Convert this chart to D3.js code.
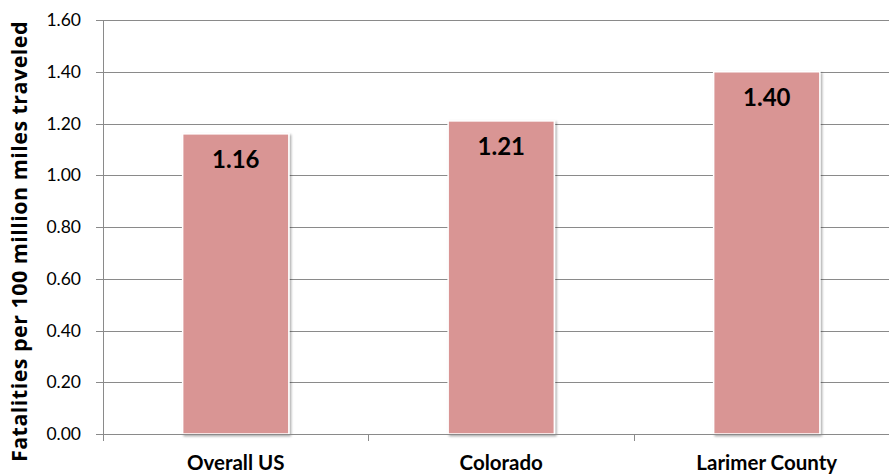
<!DOCTYPE html>
<html>
<head>
<meta charset="utf-8">
<script src="https://cdn.jsdelivr.net/npm/d3@7"></script>
<style>
  html, body { margin: 0; padding: 0; background: #fff; }
  svg { display: block; font-family: Lato, "Open Sans", sans-serif; }
</style>
</head>
<body>
<svg id="chart" width="889" height="475"></svg>
<script>
// Traffic fatality rates
const categories = ["Overall US", "Colorado", "Larimer County"];
const values = [1.16, 1.21, 1.40];
const yTicks = [0, 0.2, 0.4, 0.6, 0.8, 1.0, 1.2, 1.4, 1.6];
const yTitle = "Fatalities per 100 million miles traveled";

const svg = d3.select("#chart");
const W = 889;
const plotLeft = 103, plotRight = 899.5, plotTop = 20, plotBottom = 434;

const x = d3.scaleBand()
  .domain(categories)
  .range([plotLeft, plotRight])
  .paddingInner(0.6)
  .paddingOuter(0.3);

const y = d3.scaleLinear().domain([0, 1.6]).range([plotBottom, plotTop]);

const gridColor = "#8a8a8a";

// drop shadow for bars
const defs = svg.append("defs");
const f = defs.append("filter").attr("id", "shadow")
  .attr("x", "-10%").attr("y", "-10%").attr("width", "130%").attr("height", "130%");
f.append("feDropShadow")
  .attr("dx", 1.5).attr("dy", 1.5).attr("stdDeviation", 1.3)
  .attr("flood-color", "#000").attr("flood-opacity", 0.35);

// horizontal gridlines with left tick marks
const yAxis = d3.axisLeft(y)
  .tickValues(yTicks)
  .tickSize(-(W - plotLeft))
  .tickSizeOuter(0)
  .tickPadding(22)
  .tickFormat(d3.format(".2f"));

const gy = svg.append("g").attr("transform", `translate(${plotLeft},0)`).call(yAxis);
gy.select(".domain").remove();
gy.selectAll(".tick line")
  .attr("x1", -7)
  .attr("stroke", gridColor)
  .attr("stroke-width", 1)
  .attr("shape-rendering", "crispEdges");
gy.selectAll(".tick text")
  .attr("font-size", 17.5)
  .attr("fill", "#000")
  .attr("font-family", "Lato, sans-serif");

// vertical axis line
svg.append("line")
  .attr("x1", plotLeft).attr("x2", plotLeft)
  .attr("y1", plotTop).attr("y2", plotBottom)
  .attr("stroke", gridColor).attr("shape-rendering", "crispEdges");

// category axis: ticks at band boundaries
const boundaries = categories.map(c => x(c) - x.step() * x.paddingInner() / 2);
boundaries[0] = plotLeft;
svg.append("g").selectAll("line")
  .data(boundaries)
  .join("line")
  .attr("x1", d => d).attr("x2", d => d)
  .attr("y1", plotBottom).attr("y2", plotBottom + 7)
  .attr("stroke", gridColor).attr("shape-rendering", "crispEdges");

// bars
svg.append("g").selectAll("rect")
  .data(values)
  .join("rect")
  .attr("x", (d, i) => x(categories[i]))
  .attr("y", d => y(d))
  .attr("width", x.bandwidth())
  .attr("height", d => plotBottom - y(d))
  .attr("fill", "#d99594")
  .attr("stroke", "#ffffff")
  .attr("stroke-width", 1.5)
  .attr("filter", "url(#shadow)");

// redraw baseline over bars
svg.append("line")
  .attr("x1", plotLeft - 7).attr("x2", W)
  .attr("y1", plotBottom).attr("y2", plotBottom)
  .attr("stroke", gridColor).attr("shape-rendering", "crispEdges");

// value labels
svg.append("g").selectAll("text")
  .data(values)
  .join("text")
  .attr("x", (d, i) => x(categories[i]) + x.bandwidth() / 2)
  .attr("y", d => y(d) + 34)
  .attr("text-anchor", "middle")
  .attr("font-size", 24)
  .attr("font-weight", "bold")
  .attr("fill", "#000")
  .text(d => d3.format(".2f")(d));

// category labels
svg.append("g").selectAll("text")
  .data(categories)
  .join("text")
  .attr("x", d => x(d) + x.bandwidth() / 2)
  .attr("y", 470)
  .attr("text-anchor", "middle")
  .attr("font-size", 20.5)
  .attr("font-weight", "bold")
  .attr("fill", "#000")
  .text(d => d);

// y-axis title
svg.append("text")
  .attr("transform", "translate(27,241.5) rotate(-90)")
  .attr("text-anchor", "middle")
  .attr("font-family", "'Open Sans', sans-serif")
  .attr("font-size", 21.5)
  .attr("letter-spacing", 0.45)
  .attr("font-weight", "bold")
  .attr("fill", "#000")
  .text(yTitle);
</script>
</body>
</html>
